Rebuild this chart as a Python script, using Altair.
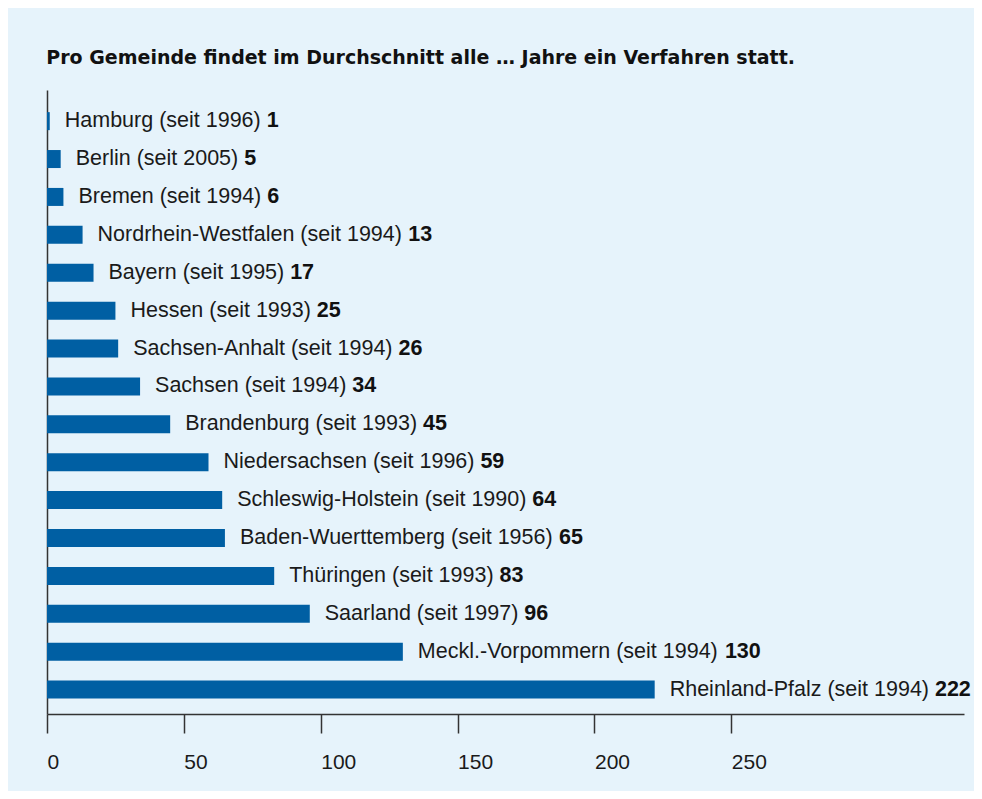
import altair as alt
import pandas as pd

# ---- data ----
laender = ["Hamburg", "Berlin", "Bremen", "Nordrhein-Westfalen", "Bayern", "Hessen",
           "Sachsen-Anhalt", "Sachsen", "Brandenburg", "Niedersachsen",
           "Schleswig-Holstein", "Baden-Wuerttemberg", "Thüringen", "Saarland",
           "Meckl.-Vorpommern", "Rheinland-Pfalz"]
seit = [1996, 2005, 1994, 1994, 1995, 1993, 1994, 1994, 1993, 1996, 1990, 1956,
        1993, 1997, 1994, 1994]
jahre = [1, 5, 6, 13, 17, 25, 26, 34, 45, 59, 64, 65, 83, 96, 130, 222]
x_ticks = [0, 50, 100, 150, 200, 250]

TITLE = "Pro Gemeinde findet im Durchschnitt alle … Jahre ein Verfahren statt."

# ---- layout / style ----
PLOT_W, PLOT_H = 917, 624
X_MAX = 335
FONT = "Liberation Sans"
LABEL_SIZE = 21.5
LABEL_GAP = 15
BAR_COLOR = "#005FA3"
BG = "#E6F3FB"
INK = "#1a1a1a"
AXIS_INK = "#333333"

# Liberation Sans (Arial-metric) advance widths, per 1000 em
ARIAL_W = {
    " ": 278, "(": 333, ")": 333, "-": 333, ".": 278,
    "a": 556, "b": 556, "c": 500, "d": 556, "e": 556, "f": 278, "g": 556,
    "h": 556, "i": 222, "j": 222, "k": 500, "l": 222, "m": 833, "n": 556,
    "o": 556, "p": 556, "q": 556, "r": 333, "s": 500, "t": 278, "u": 556,
    "v": 500, "w": 722, "x": 500, "y": 500, "z": 500, "ü": 556,
    "A": 667, "B": 667, "C": 722, "D": 722, "E": 667, "F": 611, "G": 778,
    "H": 722, "I": 278, "M": 833, "N": 722, "P": 667, "R": 722, "S": 667,
    "T": 611, "V": 667, "W": 944,
}


def text_px(s, size):
    return sum(ARIAL_W.get(ch, 556) for ch in s) * size / 1000.0


px_per_unit = PLOT_W / X_MAX

df = pd.DataFrame({"land": laender, "seit": seit, "jahre": jahre})
df["label"] = [f"{n} (seit {s})" for n, s in zip(laender, seit)]
df["wert"] = df["jahre"].astype(str)
df["wert_x"] = [v + (LABEL_GAP + text_px(lab + " ", LABEL_SIZE)) / px_per_unit
                for v, lab in zip(df["jahre"], df["label"])]

x_scale = alt.Scale(domain=[0, X_MAX], nice=False, zero=True)
x_axis = alt.Axis(
    title=None, grid=False, values=x_ticks, tickSize=19, tickColor=AXIS_INK,
    tickWidth=1.5, domainColor=AXIS_INK, domainWidth=1.5, labelAlign="left",
    labelFlush=False, labelPadding=18, labelFont=FONT, labelFontSize=21,
    labelColor=INK, labelOverlap=False,
)
y_enc = alt.Y(
    "land:N", sort=laender, title=None,
    scale=alt.Scale(paddingInner=0.525, paddingOuter=0.495, align=0.59),
    axis=alt.Axis(labels=False, ticks=False, domain=True, domainColor=AXIS_INK,
                  domainWidth=1.5, grid=False, title=None),
)

base = alt.Chart(df)

bars = base.mark_bar(color=BAR_COLOR).encode(
    x=alt.X("jahre:Q", scale=x_scale, axis=x_axis),
    y=y_enc,
)

names = base.mark_text(
    align="left", baseline="middle", dx=LABEL_GAP, font=FONT,
    fontSize=LABEL_SIZE, color=INK,
).encode(
    x=alt.X("jahre:Q", scale=x_scale, axis=x_axis),
    y=y_enc,
    text="label:N",
)

values = base.mark_text(
    align="left", baseline="middle", font=FONT, fontSize=LABEL_SIZE,
    fontWeight="bold", color="#111111",
).encode(
    x=alt.X("wert_x:Q", scale=x_scale, axis=x_axis),
    y=y_enc,
    text="wert:N",
)

chart = alt.layer(bars, names, values).properties(
    width=PLOT_W,
    height=PLOT_H,
    title=alt.Title(TITLE, anchor="start", font="DejaVu Sans", fontSize=19,
                    fontWeight="bold", color="#111111", offset=7,
                    baseline="alphabetic"),
    autosize=alt.AutoSizeParams(type="none"),
    padding={"left": 39, "top": 82, "right": 10, "bottom": 77},
    background=BG,
).configure_view(stroke=None)

chart.save("out.html", embed_options={"renderer": "svg", "actions": False})
